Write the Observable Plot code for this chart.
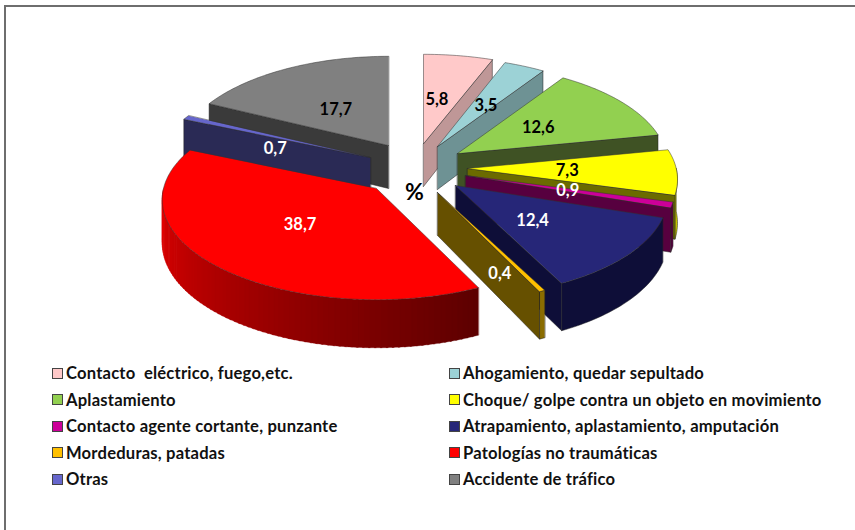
<!DOCTYPE html>
<html>
<head>
<meta charset="utf-8">
<script src="https://cdn.jsdelivr.net/npm/d3@7"></script>
<script src="https://cdn.jsdelivr.net/npm/@observablehq/plot@0.6"></script>
<style>
html,body{margin:0;padding:0;background:#fff}
#frame{position:relative;width:851px;height:525px;margin:5px 0 0 4px;border-left:2px solid #6e6e6e;border-top:2px solid #6e6e6e;overflow:hidden}
#chart{position:absolute;left:-6px;top:-7px}
#legend{position:absolute;left:0;top:0;width:855px;font:bold 16.6px Lato,sans-serif;color:#111}
.item{position:absolute;display:flex;align-items:center;white-space:pre;letter-spacing:.2px}
.sw{width:9px;height:9px;border:1.5px solid #444;margin-right:3px;flex:none}
</style>
</head>
<body>
<div id="frame"><div id="chart"></div><div id="legend"></div></div>
<script>
// ---- data ----
const categories = ["Contacto  eléctrico, fuego,etc.","Ahogamiento, quedar sepultado","Aplastamiento","Choque/ golpe contra un objeto en movimiento","Contacto agente cortante, punzante","Atrapamiento, aplastamiento, amputación","Mordeduras, patadas","Patologías no traumáticas","Otras","Accidente de tráfico"];
const values = [5.8,3.5,12.6,7.3,0.9,12.4,0.4,38.7,0.7,17.7];
const valueLabels = ["5,8","3,5","12,6","7,3","0,9","12,4","0,4","38,7","0,7","17,7"];
// ---- styles ----
const topColors  = ["#FFC9C9","#9CD2D6","#92D050","#FFFF00","#CC0099","#262678","#FFC000","#FF0000","#6666CC","#808080"];
const sideColors = ["#BF9797","#6E9294","#3F5224","#6B6B00","#57003F","#0E0E38","#665000","#8a0000","#2A2A55","#3A3A3A"];
const wallColors = ["#BF9797","#6E9294","#3F5224","#C4C400","#57003F","#0E0E38","#8a6c00",null,"#2A2A55","#3A3A3A"];
const labelColors = ["#000","#000","#000","#000","#fff","#fff","#fff","#fff","#fff","#000"];
// ---- pie layout: exploded slice centres, ellipse radii, perspective ----
const centres = [[423,143],[437,146],[457,153],[467,168],[465,175],[455,185],[437,192],[376,188],[370,157],[388,145]];
const rxScale = [1,.98,.98,.98,.98,.99,1,1,1,.985];
const labelShift = [[-4,0],[5,-1],[-1,0],[-5,1],[-1,0],[-9,0],[10,32],[4,-2],[-3,11],[-2,3]];
const RX = 213, RY = 99, K = 0.11, DEPTH = 43;
const drawOrder = [9,0,1,2,3,4,5,6,8,7];

const persp = t => 1/(1 + K*Math.cos(t));
const rimX = (c,t,i) => c[0] + RX*rxScale[i]*Math.sin(t)*persp(t);
const rimY = (c,t) => c[1] - RY*Math.cos(t)*persp(t);
const drop = t => DEPTH*(1 + (persp(t)-1)*0.95);
const rad = p => p/100*2*Math.PI;
const arc = (c,a,b,off,i) => {
  const n = Math.max(2,Math.ceil(Math.abs(b-a)/0.02));
  return d3.range(n+1).map(k => {
    const t = a+(b-a)*k/n;
    return {x:rimX(c,t,i), y:rimY(c,t)+(off?drop(t):0)};
  });
};
const cum = d3.cumsum(values);
const starts = values.map((v,i)=> i? cum[i-1]:0);

const face = (pts,fill,stroke,sw=.7) => Plot.line(pts,{x:"x",y:"y",fill,stroke,strokeWidth:sw,curve:"linear-closed"});
const marks = [];
for (const i of drawOrder) {
  const c = centres[i], a = rad(starts[i]), b = rad(cum[i]);
  const cut = t => {
    const p = [{x:c[0],y:c[1]},{x:rimX(c,t,i),y:rimY(c,t)},{x:rimX(c,t,i),y:rimY(c,t)+drop(t)},{x:c[0],y:c[1]+DEPTH}];
    return face(p,sideColors[i],"#222",.5);
  };
  // outer wall: only the front half of the rim is seen
  const wa = Math.max(a,Math.PI/2), wb = Math.min(b,1.5*Math.PI);
  if (wb > wa) {
    if (wallColors[i]) {
      marks.push(face([...arc(c,wa,wb,false,i),...arc(c,wb,wa,true,i)],wallColors[i],"#222",.5));
    } else {
      // shaded wall, split along the rim
      const steps = Math.ceil((wb-wa)/0.025);
      const shade = d3.scaleLinear().domain([wb,wa+(wb-wa)*0.35,wa]).range(["#E60000","#8a0000","#5c0000"]);
      d3.range(steps).forEach(s=>{
        const t0 = wa+(wb-wa)*s/steps, t1 = wa+(wb-wa)*(s+1.3)/steps;
        const col = shade((t0+t1)/2);
        marks.push(face([...arc(c,t0,Math.min(t1,wb),false,i),...arc(c,Math.min(t1,wb),t0,true,i)],col,col,.3));
      });
    }
  }
  // cut faces turned towards the viewer
  if (b > 0 && b < Math.PI) marks.push(cut(b));
  if (a > Math.PI && a < 2*Math.PI) marks.push(cut(a));
  // top surface
  marks.push(face([{x:c[0],y:c[1]},...arc(c,a,b,false,i)],topColors[i],"#333",.5));
}
// value labels at the middle of each slice
const labels = values.map((v,i)=>{
  const c = centres[i], m = rad(starts[i]+v/2);
  return {t:valueLabels[i], col:labelColors[i],
    x:(c[0]+rimX(c,m,i))/2+labelShift[i][0], y:(c[1]+rimY(c,m))/2+labelShift[i][1]};
});
marks.push(Plot.text(labels,{x:"x",y:"y",text:"t",fill:"col",fontSize:16.5,fontWeight:700,fontFamily:"Lato, sans-serif"}));
marks.push(Plot.text(["%"],{x:()=>414,y:()=>192,text:d=>d,fill:"#000",fontSize:23,fontWeight:700,fontFamily:"Lato, sans-serif"}));

const plot = Plot.plot({
  width:855,height:360,margin:0,
  x:{domain:[0,855],range:[0,855],axis:null},
  y:{domain:[0,360],range:[0,360],axis:null},
  color:{type:"identity"},
  style:{background:"transparent",overflow:"visible"},
  marks
});
document.getElementById("chart").append(plot);

// legend
const legendX = [52,449], legendY0 = 373, legendStep = 26.5;
const lg = document.getElementById("legend");
categories.forEach((c,i)=>{
  const row = Math.floor(i/2), col = i%2;
  const el = document.createElement("div");
  el.className="item";
  el.style.left = (legendX[col]-6)+"px";
  el.style.top = (legendY0+row*legendStep-7-10)+"px";
  const sw = document.createElement("span");
  sw.className="sw"; sw.style.background = topColors[i];
  const tx = document.createElement("span"); tx.textContent = c;
  el.append(sw,tx); lg.append(el);
});
</script>
</body>
</html>
